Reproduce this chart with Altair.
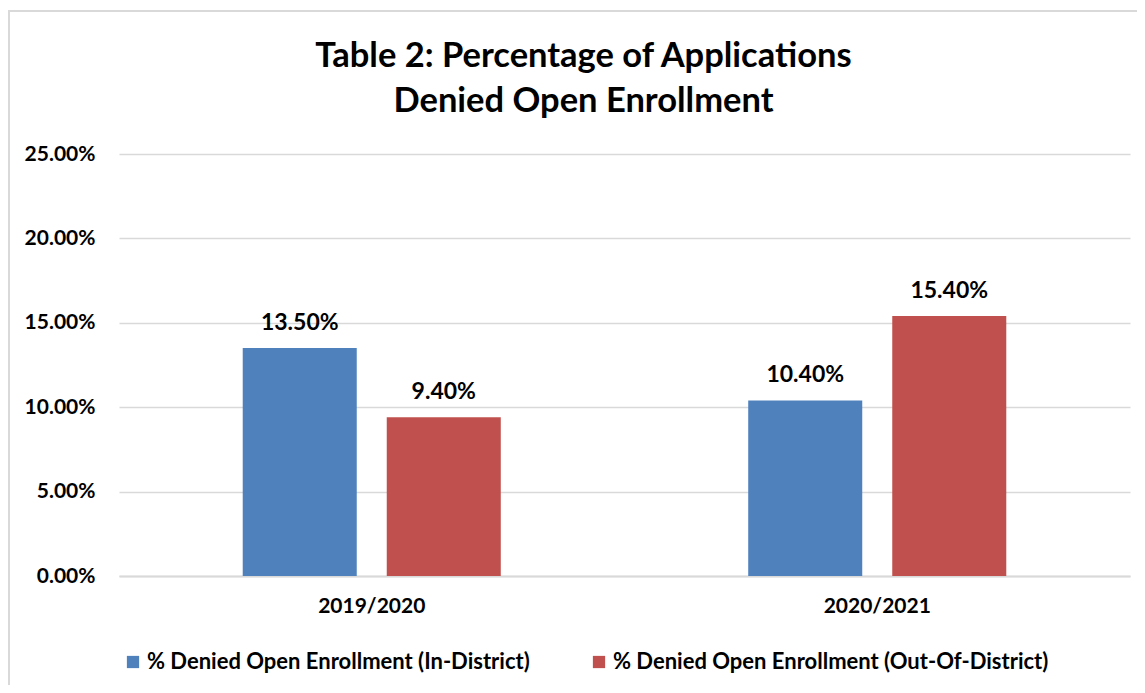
import altair as alt
import pandas as pd

years = ["2019/2020", "2020/2021"]
series = ["% Denied Open Enrollment (In-District)",
          "% Denied Open Enrollment (Out-Of-District)"]
in_district = [0.135, 0.104]
out_district = [0.094, 0.154]
colors = ["#4F81BD", "#C0504D"]
y_ticks = [0.0, 0.05, 0.10, 0.15, 0.20, 0.25]
title_lines = ["Table 2: Percentage of Applications", "Denied Open Enrollment"]

rows = []
for i, yr in enumerate(years):
    rows.append({"year": yr, "series": series[0], "value": in_district[i]})
    rows.append({"year": yr, "series": series[1], "value": out_district[i]})
df = pd.DataFrame(rows)

FONT = "Lato"
W, H = 1011, 422
PAD_L, PAD_T = 111, 146

x = alt.X("year:N", sort=years,
          scale=alt.Scale(paddingInner=0, paddingOuter=0),
          axis=alt.Axis(title=None, labelAngle=0, labelFontSize=21, labelFontWeight="bold",
                        labelColor="#000000", labelPadding=19, ticks=False,
                        domainColor="#d9d9d9", domainWidth=2, grid=False, labelFont=FONT))
xo = alt.XOffset("series:N", sort=series,
                 scale=alt.Scale(paddingInner=0.2083, paddingOuter=0.859))
y = alt.Y("value:Q", scale=alt.Scale(domain=[0, 0.25]),
          axis=alt.Axis(title=None, format=".2%", values=y_ticks, labelFontSize=21,
                        labelFontWeight="bold", labelColor="#000000", labelPadding=24,
                        ticks=False, domain=False, gridColor="#d9d9d9", gridWidth=1.5,
                        labelFont=FONT))

bars = alt.Chart(df).mark_bar().encode(
    x=x, xOffset=xo, y=y,
    color=alt.Color("series:N", sort=series,
                    scale=alt.Scale(domain=series, range=colors),
                    legend=alt.Legend(title=None, orient="none", direction="horizontal",
                                      legendX=3, legendY=497, symbolType="square",
                                      symbolSize=150, symbolStrokeWidth=0,
                                      labelFontSize=22, labelFont=FONT,
                                      labelFontWeight="bold", labelColor="#000000",
                                      labelLimit=800, labelOffset=3, columnPadding=58)),
)

labels = alt.Chart(df).mark_text(font=FONT, fontSize=23, fontWeight="bold",
                                 color="#000000", baseline="alphabetic", dy=-18).encode(
    x=x, xOffset=xo, y=y,
    text=alt.Text("value:Q", format=".2%"),
)

frame = alt.Chart(df).mark_rect(filled=False, stroke="#d9d9d9", strokeWidth=2).encode(
    x=alt.value(-110), x2=alt.value(1200), y=alt.value(-143), y2=alt.value(600))

chart = alt.layer(frame, bars, labels).properties(
    width=W, height=H,
    title=alt.TitleParams(title_lines, fontSize=34.5, font=FONT, fontWeight="bold",
                          color="#000000", anchor="middle", dx=-41, offset=-109,
                          lineHeight=45),
    autosize=alt.AutoSizeParams(type="none"),
    padding={"left": PAD_L, "top": PAD_T, "right": 7, "bottom": 109},
).configure_view(stroke=None)

chart.save("out.html", embed_options={"renderer": "svg", "actions": False})
